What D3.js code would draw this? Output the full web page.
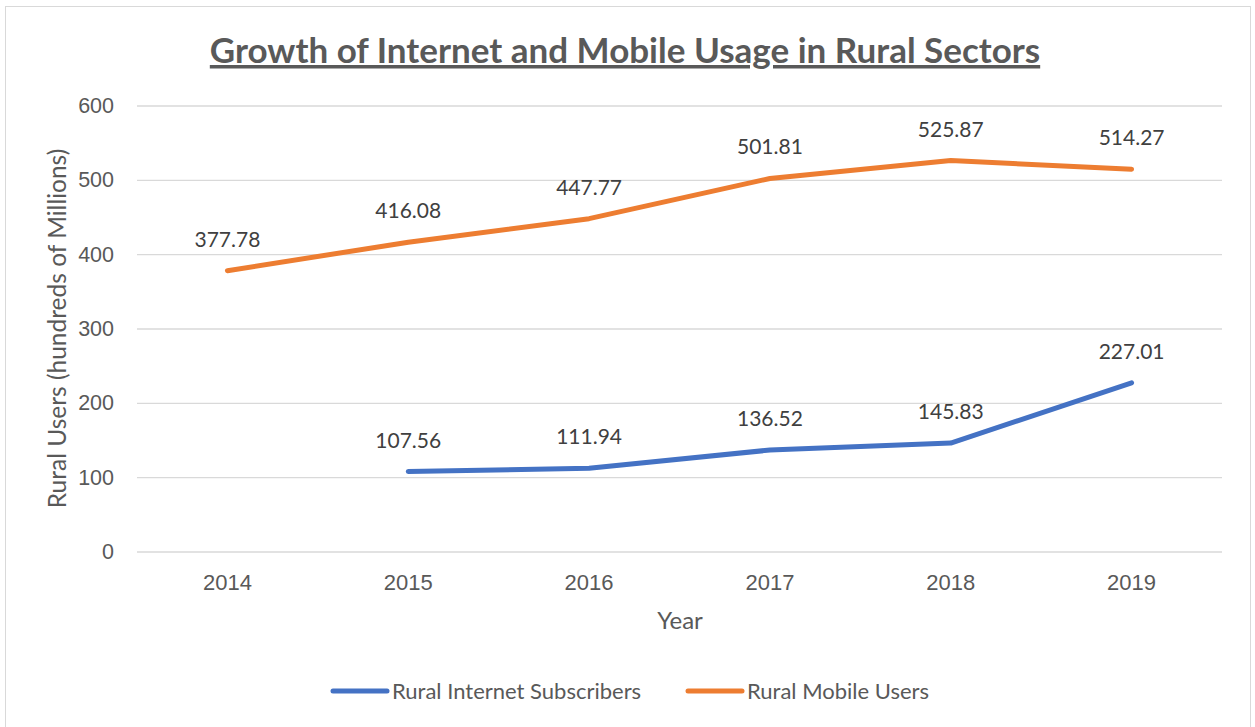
<!DOCTYPE html>
<html>
<head>
<meta charset="utf-8">
<script src="https://cdn.jsdelivr.net/npm/d3@7"></script>
<style>
  body { margin: 0; background: #fff; }
  svg { font-family: Lato, "Open Sans", sans-serif; }
</style>
</head>
<body>
<svg></svg>
<script>
var width = 1255;
var height = 727;
var margins = { left: 137, top: 105.5, right: 33, bottom: 175.5 };

var years = ["2014", "2015", "2016", "2017", "2018", "2019"];
var internetUsers = [null, 107.56, 111.94, 136.52, 145.83, 227.01];
var mobileUsers = [377.78, 416.08, 447.77, 501.81, 525.87, 514.27];
var yTicks = [0, 100, 200, 300, 400, 500, 600];

var series = [
    { name: "Rural Internet Subscribers", values: internetUsers, color: "#4472C4" },
    { name: "Rural Mobile Users", values: mobileUsers, color: "#ED7D31" }
];

var svg = d3.select("svg")
            .attr("width", width)
            .attr("height", height);

// chart border
svg.append("rect")
    .attr("x", 5.5).attr("y", 6.5)
    .attr("width", 1245).attr("height", 730)
    .attr("fill", "#fff")
    .attr("stroke", "#d9d9d9");

var xscale = d3.scaleBand()
               .domain(years)
               .range([margins.left, width - margins.right]);

var yscale = d3.scaleLinear()
               .domain([0, 600])
               .range([height - margins.bottom, margins.top]);

// gridlines + y labels
var yaxis = d3.axisLeft(yscale)
              .tickValues(yTicks)
              .tickSize(-(width - margins.left - margins.right))
              .tickPadding(23);

var gy = svg.append("g")
    .attr("transform", "translate(" + margins.left + ",0)")
    .call(yaxis);
gy.select(".domain").remove();
gy.selectAll("line").attr("stroke", "#d9d9d9").attr("stroke-width", 1.3);
gy.selectAll("text").attr("fill", "#595959").style("font-size", "21.5px");

var xaxis = d3.axisBottom(xscale).tickSize(0).tickPadding(23);
var gx = svg.append("g")
    .attr("transform", "translate(0," + (height - margins.bottom) + ")")
    .call(xaxis);
gx.select(".domain").remove();
gx.selectAll("text").attr("fill", "#595959").style("font-size", "22px");

var line = d3.line()
    .defined(function(d){ return d != null; })
    .x(function(d, i){ return xscale(years[i]) + xscale.bandwidth() / 2; })
    .y(function(d){ return yscale(d); });

series.forEach(function(s){
    svg.append("path")
        .datum(s.values)
        .attr("d", line)
        .attr("fill", "none")
        .attr("stroke", s.color)
        .attr("stroke-width", 5)
        .attr("stroke-linecap", "round")
        .attr("stroke-linejoin", "round");

    svg.append("g").selectAll("text")
        .data(s.values)
        .enter().filter(function(d){ return d != null; })
        .append("text")
        .attr("x", function(d){ return xscale(years[s.values.indexOf(d)]) + xscale.bandwidth() / 2; })
        .attr("y", function(d){ return yscale(d) - 24; })
        .attr("text-anchor", "middle")
        .attr("fill", "#404040")
        .style("font-size", "21px")
        .text(function(d){ return d.toFixed(2); });
});

// title
svg.append("text")
    .attr("x", 625).attr("y", 63)
    .attr("text-anchor", "middle")
    .attr("fill", "#595959")
    .style("font-size", "35px")
    .style("font-weight", "bold")
    .style("text-decoration", "underline")
    .text("Growth of Internet and Mobile Usage in Rural Sectors");

// axis titles
svg.append("text")
    .attr("transform", "translate(66," + ((margins.top + height - margins.bottom) / 2) + ") rotate(-90)")
    .attr("text-anchor", "middle")
    .attr("fill", "#595959")
    .style("font-size", "24.5px")
    .text("Rural Users (hundreds of Millions)");

svg.append("text")
    .attr("x", 680).attr("y", 629)
    .attr("text-anchor", "middle")
    .attr("fill", "#595959")
    .style("font-size", "24px")
    .text("Year");

// legend
var legendX = [330, 685];
series.forEach(function(s, i){
    var g = svg.append("g").attr("transform", "translate(" + legendX[i] + ",691)");
    g.append("line")
        .attr("x1", 3).attr("x2", 57)
        .attr("stroke", s.color)
        .attr("stroke-width", 5)
        .attr("stroke-linecap", "round");
    g.append("text")
        .attr("x", 62).attr("y", 8)
        .attr("fill", "#595959")
        .style("font-size", "22px")
        .text(s.name);
});
</script>
</body>
</html>
